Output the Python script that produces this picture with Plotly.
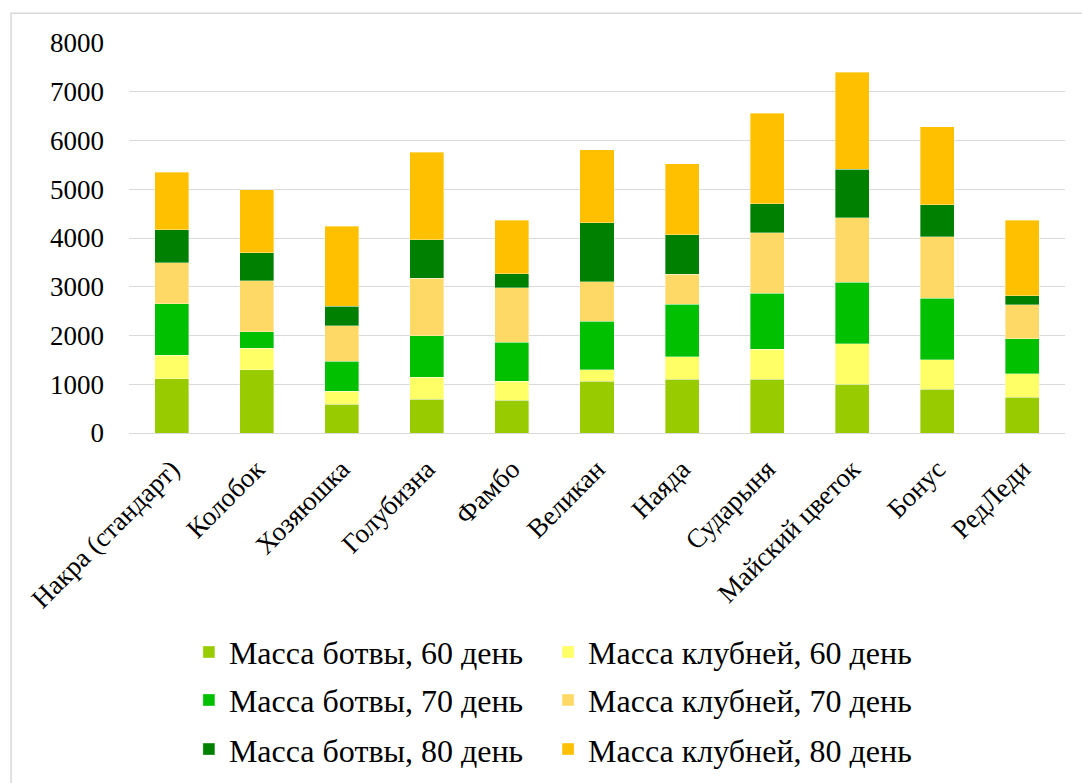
import plotly.graph_objects as go

categories = ["Накра (стандарт)", "Колобок", "Хозяюшка", "Голубизна", "Фамбо",
              "Великан", "Наяда", "Сударыня", "Майский цветок", "Бонус", "РедЛеди"]

botva_60 = [1108, 1293, 588, 691, 677, 1060, 1101, 1101, 999, 896, 732]
klub_60 = [486, 444, 267, 451, 383, 240, 465, 616, 834, 609, 479]
botva_70 = [1060, 335, 616, 848, 800, 991, 1074, 1149, 1259, 1258, 718]
klub_70 = [834, 1047, 731, 1184, 1122, 814, 616, 1245, 1320, 1266, 704]
botva_80 = [684, 581, 397, 786, 281, 1211, 814, 588, 998, 650, 185]
klub_80 = [1177, 1286, 1642, 1799, 1101, 1491, 1457, 1861, 1991, 1600, 1546]

series_names = ["Масса ботвы, 60 день", "Масса клубней, 60 день",
                "Масса ботвы, 70 день", "Масса клубней, 70 день",
                "Масса ботвы, 80 день", "Масса клубней, 80 день"]
series_values = [botva_60, klub_60, botva_70, klub_70, botva_80, klub_80]
series_colors = ["#99CC00", "#FFFF66", "#00C000", "#FFD966", "#008000", "#FFC000"]

FONT = "Liberation Serif"

# legend slots: (column x, row y) in paper coords
col_x = [0.064, 0.4477]
row_y = [-0.562, -0.685, -0.811]

fig = go.Figure()
legends = {}
for i, (name, vals, color) in enumerate(zip(series_names, series_values, series_colors)):
    key = "legend" if i == 0 else f"legend{i + 1}"
    fig.add_trace(go.Bar(
        x=categories, y=vals, name=name, legend=key,
        marker=dict(color=color, line=dict(color="rgba(255,255,255,0.45)", width=0.8)),
    ))
    legends[key] = dict(
        orientation="h",
        x=col_x[i % 2], xanchor="left",
        y=row_y[i // 2], yanchor="middle",
        font=dict(family=FONT, size=32, color="black"),
        bgcolor="rgba(0,0,0,0)",
        itemclick=False, itemdoubleclick=False,
    )

fig.update_layout(
    barmode="stack",
    bargap=0.6,
    width=1082, height=783,
    margin=dict(l=129, r=17, t=43, b=350, pad=0, autoexpand=False),
    paper_bgcolor="white", plot_bgcolor="white",
    font=dict(family=FONT, size=24, color="black"),
    showlegend=True,
    xaxis=dict(
        tickangle=-45,
        tickfont=dict(family=FONT, size=27, color="black"),
        showgrid=False, showline=False, ticks="",
        ticklabelstandoff=14, automargin=False,
    ),
    yaxis=dict(
        range=[0, 8000],
        tickvals=[0, 1000, 2000, 3000, 4000, 5000, 6000, 7000, 8000],
        tickfont=dict(family=FONT, size=27, color="black"),
        showgrid=True, gridcolor="#D9D9D9", gridwidth=1.3,
        zeroline=True, zerolinecolor="#D9D9D9", zerolinewidth=1.3,
        showline=False, ticks="", ticklabelstandoff=24, automargin=False,
    ),
    shapes=[dict(
        type="rect", xref="paper", yref="paper",
        x0=-0.126, x1=1.03, y0=-0.95, y1=1.076,
        line=dict(color="#D9D9D9", width=1.5), fillcolor="rgba(0,0,0,0)", layer="below",
    )],
)
fig.update_layout(**legends)

fig.write_html("out.html")
